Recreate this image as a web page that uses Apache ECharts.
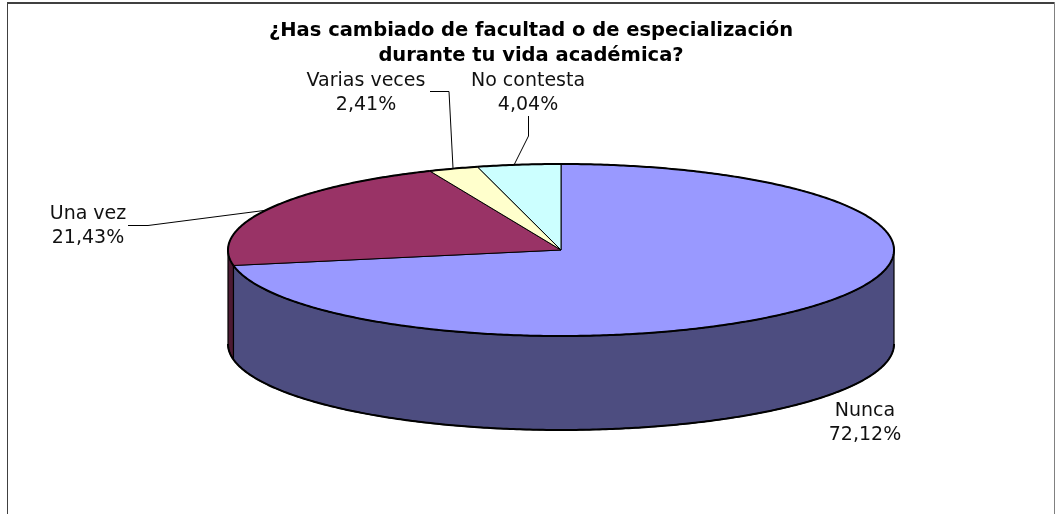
<!DOCTYPE html>
<html>
<head>
<meta charset="utf-8">
<style>
  html, body { margin: 0; padding: 0; background: #fff; }
  #grafico { width: 1055px; height: 514px; }
</style>
<script src="https://cdn.jsdelivr.net/npm/echarts@6/dist/echarts.min.js"></script>
</head>
<body>
<div id="grafico"></div>
<script>
var titulo = '¿Has cambiado de facultad o de especialización\ndurante tu vida académica?';
var categorias = ['Nunca', 'Una vez', 'Varias veces', 'No contesta'];
var valores = [72.12, 21.43, 2.41, 4.04];
var coloresTapa = ['#9999ff', '#993366', '#ffffcc', '#ccffff'];
var coloresLado = ['#4d4d80', '#4d1a33', '#808066', '#668080'];

// geometria de la elipse y del canto
var cx = 561, cy = 250, rx = 333, ry = 86, canto = 94;
var fuente = 'DejaVu Sans';

// posicion de cada etiqueta y su linea guia
var etiquetas = [
  { x: 865, y: 423, guia: null },
  { x: 88, y: 226.5, guia: [[128, 225.5], [148, 225.5], [264, 210.5]] },
  { x: 366, y: 93, guia: [[430, 91.5], [449, 91.5], [453, 168]] },
  { x: 528, y: 93, guia: [[528.5, 116], [528.5, 136], [514, 165]] }
];

function punto (ang, dy) {
  return [cx + rx * Math.sin(ang), cy - ry * Math.cos(ang) + (dy || 0)];
}

function angulos (i) {
  var total = valores.reduce(function (a, b) { return a + b; }, 0);
  var acum = 0;
  for (var k = 0; k < i; k++) acum += valores[k];
  return [acum / total * 2 * Math.PI, (acum + valores[i]) / total * 2 * Math.PI];
}

function arco (a0, a1, dy) {
  var pts = [];
  var n = Math.max(2, Math.ceil((a1 - a0) / 0.01));
  for (var k = 0; k <= n; k++) pts.push(punto(a0 + (a1 - a0) * k / n, dy));
  return pts;
}

// canto visible: solo la mitad delantera de la elipse
function renderLado (params, api) {
  var a = angulos(params.dataIndex);
  var a0 = Math.max(a[0], Math.PI / 2);
  var a1 = Math.min(a[1], Math.PI * 3 / 2);
  if (a1 <= a0) return { type: 'group', children: [] };
  var pts = arco(a0, a1, 0).concat(arco(a0, a1, canto).reverse());
  return {
    type: 'group',
    children: [
      {
        type: 'polygon',
        shape: { points: pts },
        style: { fill: coloresLado[params.dataIndex], stroke: '#000', lineWidth: 1.2, lineJoin: 'round' }
      },
      {
        type: 'polyline',
        shape: { points: arco(a0, a1, canto) },
        style: { fill: 'none', stroke: '#000', lineWidth: 2 }
      }
    ]
  };
}

function renderTapa (params, api) {
  var i = params.dataIndex;
  var a = angulos(i);
  var pts = [[cx, cy]].concat(arco(a[0], a[1], 0));
  var hijos = [
    {
      type: 'polygon',
      shape: { points: pts },
      style: { fill: coloresTapa[i], stroke: '#000', lineWidth: 1, lineJoin: 'round' }
    },
    {
      type: 'polyline',
      shape: { points: arco(a[0], a[1], 0) },
      style: { fill: 'none', stroke: '#000', lineWidth: 2 }
    }
  ];
  var e = etiquetas[i];
  if (e.guia) {
    hijos.push({
      type: 'polyline',
      shape: { points: e.guia },
      style: { fill: 'none', stroke: '#000', lineWidth: 1 }
    });
  }
  hijos.push({
    type: 'text',
    x: e.x,
    y: e.y,
    style: {
      text: categorias[i] + '\n' + api.value(0).toFixed(2).replace('.', ',') + '%',
      font: '19px "' + fuente + '"',
      lineHeight: 24,
      fill: '#111',
      align: 'center',
      verticalAlign: 'middle'
    }
  });
  return { type: 'group', children: hijos };
}

var chartDom = document.getElementById('grafico');
var myChart = echarts.init(chartDom);
var option;

var datos = valores.map(function (v) { return [v]; });

option = {
  backgroundColor: '#fff',
  animation: false,
  title: {
    text: titulo,
    left: 526,
    top: 13,
    textAlign: 'center',
    textStyle: { fontFamily: fuente, fontWeight: 'bold', fontSize: 19.5, lineHeight: 25, color: '#000' }
  },
  graphic: [
    { type: 'line', shape: { x1: 7, y1: 3, x2: 1054, y2: 3 }, style: { stroke: '#404040', lineWidth: 2 } },
    { type: 'line', shape: { x1: 7.5, y1: 2, x2: 7.5, y2: 514 }, style: { stroke: '#404040', lineWidth: 1 } },
    { type: 'line', shape: { x1: 1054.5, y1: 2, x2: 1054.5, y2: 514 }, style: { stroke: '#808080', lineWidth: 1 } }
  ],
  series: [
    { type: 'custom', coordinateSystem: 'none', silent: true, renderItem: renderLado, data: datos, z: 2 },
    { type: 'custom', coordinateSystem: 'none', silent: true, renderItem: renderTapa, data: datos, z: 3 }
  ]
};

option && myChart.setOption(option);
</script>
</body>
</html>
